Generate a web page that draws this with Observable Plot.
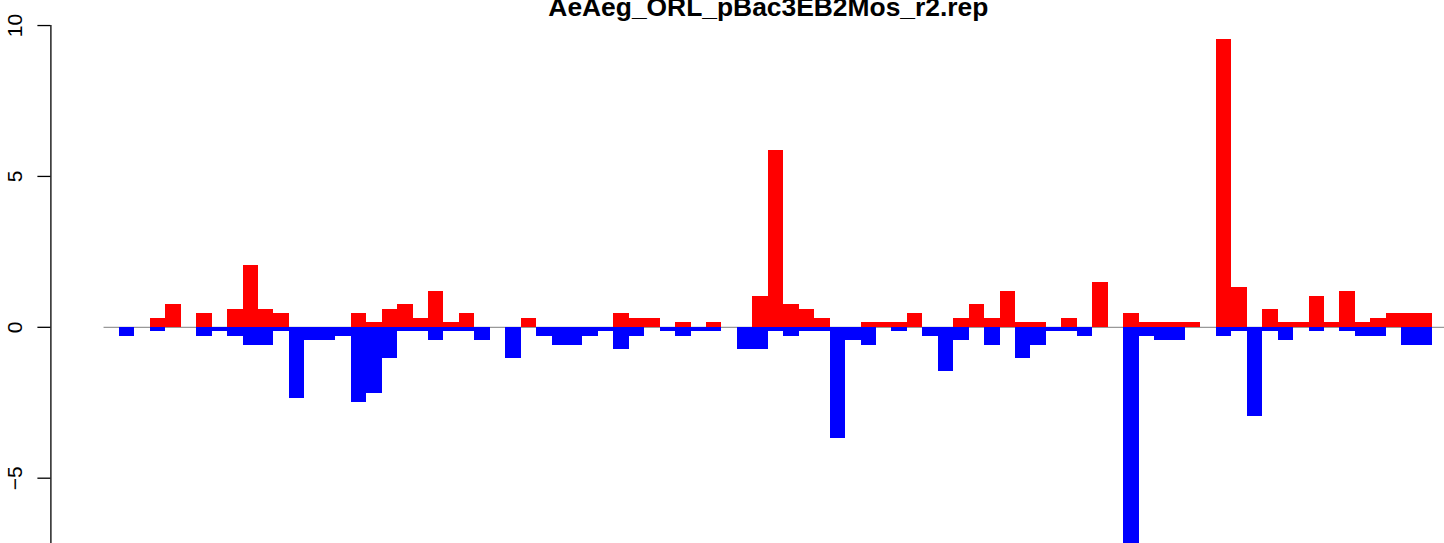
<!DOCTYPE html>
<html>
<head>
<meta charset="utf-8">
<script src="https://cdn.jsdelivr.net/npm/d3@7"></script>
<script src="https://cdn.jsdelivr.net/npm/@observablehq/plot@0.6"></script>
<style>
  html, body { margin: 0; padding: 0; background: #ffffff; overflow: hidden; }
</style>
</head>
<body>
<div id="chart"></div>
<script>
const title = "AeAeg_ORL_pBac3EB2Mos_r2.rep";

// positive (red) values per position
const redValues = [
  0, 0, 0, 0.29, 0.75, 0, 0.45, 0, 0.59, 2.04,
  0.59, 0.45, 0, 0, 0, 0, 0.45, 0.15, 0.59, 0.75,
  0.29, 1.18, 0.15, 0.45, 0, 0, 0, 0.29, 0, 0,
  0, 0, 0, 0.45, 0.29, 0.29, 0, 0.15, 0, 0.15,
  0, 0, 1.02, 5.85, 0.75, 0.59, 0.29, 0, 0, 0.15,
  0.15, 0.15, 0.45, 0, 0, 0.29, 0.75, 0.29, 1.18, 0.15,
  0.15, 0, 0.29, 0, 1.48, 0, 0.45, 0.15, 0.15, 0.15,
  0.15, 0, 9.53, 1.31, 0, 0.59, 0.15, 0.15, 1.02, 0.15,
  1.18, 0.15, 0.29, 0.45, 0.45, 0.45
];

// negative (blue) values per position
const blueValues = [
  0, -0.3, 0, -0.15, 0, 0, -0.3, -0.15, -0.3, -0.6,
  -0.6, -0.15, -2.35, -0.43, -0.43, -0.3, -2.48, -2.19, -1.02, -0.15,
  -0.15, -0.43, -0.15, -0.15, -0.43, 0, -1.02, 0, -0.3, -0.6,
  -0.6, -0.3, -0.15, -0.73, -0.3, 0, -0.15, -0.3, -0.15, -0.15,
  0, -0.73, -0.73, -0.15, -0.3, -0.15, -0.15, -3.68, -0.43, -0.6,
  0, -0.15, 0, -0.3, -1.46, -0.43, 0, -0.6, 0, -1.02,
  -0.6, -0.15, -0.15, -0.3, 0, 0, -8.4, -0.3, -0.43, -0.43,
  0, 0, -0.3, -0.15, -2.95, -0.15, -0.43, 0, -0.15, 0,
  -0.15, -0.3, -0.3, 0, -0.6, -0.6
];

const yTicks = [-5, 0, 5, 10];

const n = redValues.length;
const idx = d3.range(n);
const pad = 0.04 * n;                 // R-style 4% axis extension
const xDomain = [-pad, 86.77];        // visible part of the plot window
const yDomain = [-7.164, 10.83];

const W = 1444, H = 543;
const fmt = d => (d < 0 ? "\u2212" + Math.abs(d) : String(d));

const chart = Plot.plot({
  width: W,
  height: H,
  marginLeft: 50.4,
  marginRight: 0,
  marginTop: 0,
  marginBottom: 0,
  style: { fontFamily: "'Liberation Sans', Arial, Helvetica, sans-serif", background: "#ffffff", color: "#000000", overflow: "visible" },
  x: { type: "linear", domain: xDomain, axis: null },
  y: { type: "linear", domain: yDomain, axis: null },
  marks: [
    // zero reference line
    Plot.ruleY([0], { x1: 0, x2: xDomain[1], stroke: "#999999", strokeWidth: 1.2 }),
    // red (positive) bars
    Plot.rectY(idx.filter(i => redValues[i] !== 0), {
      x1: i => i, x2: i => i + 1, y1: 0, y2: i => redValues[i],
      fill: "#ff0000", inset: 0, shapeRendering: "crispEdges", clip: "frame"
    }),
    // blue (negative) bars
    Plot.rectY(idx.filter(i => blueValues[i] !== 0), {
      x1: i => i, x2: i => i + 1, y1: 0, y2: i => blueValues[i],
      fill: "#0000ff", inset: 0, shapeRendering: "crispEdges", clip: "frame"
    }),
    // y axis line
    Plot.ruleX([xDomain[0]], { y1: yDomain[0], y2: d3.max(yTicks), stroke: "#000000", strokeWidth: 1.3 }),
    // y axis ticks
    Plot.axisY({ ticks: yTicks, tickSize: 13, tickFormat: () => "", label: null, stroke: "#000000", strokeWidth: 1.3, strokeOpacity: 1 }),
    // y tick labels (rotated, R style)
    Plot.text(yTicks, {
      y: d => d, text: fmt, frameAnchor: "left", dx: -36, rotate: -90,
      textAnchor: "middle", lineAnchor: "middle", fontSize: 21, fill: "#000000"
    }),
    // title
    Plot.text([title], {
      x: n / 2, frameAnchor: "top", dy: 15, lineAnchor: "bottom", textAnchor: "middle",
      fontSize: 26.4, fontWeight: "bold", fill: "#000000"
    })
  ]
});

document.getElementById("chart").appendChild(chart);
</script>
</body>
</html>
